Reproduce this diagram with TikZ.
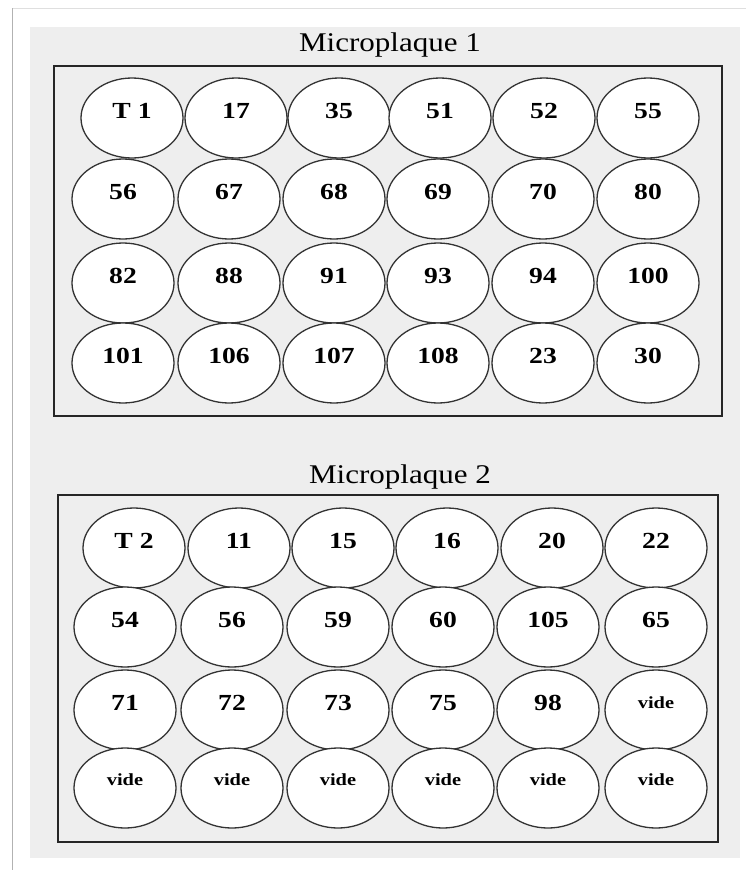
\documentclass[tikz,border=0pt]{standalone}
\usepackage{fontspec}
\setmainfont{Liberation Serif}
\usetikzlibrary{shapes.geometric}

\definecolor{platebg}{HTML}{EEEEEE}
\tikzset{
  well/.style={ellipse, draw=black!80, line width=1.3pt, fill=white,
    minimum width=102pt, minimum height=80pt, inner sep=0pt},
  num/.style={font=\fontsize{23}{23}\selectfont\bfseries, xscale=1.2, inner sep=0pt},
  plate/.style={draw=black!85, line width=2.2pt},
  platetitle/.style={font=\fontsize{27}{27}\selectfont, xscale=1.15, inner sep=0pt},
}
\newcommand{\videtxt}{{\fontsize{17}{17}\selectfont vide}}

\begin{document}
\begin{tikzpicture}[x=1pt,y=-1pt]
  \useasboundingbox (0,0) rectangle (746,870);
  \fill[white] (0,0) rectangle (746,870);
  \draw[gray!25] (12,8) -- (746,8);
  \draw[gray!60] (12,8) -- (12,870);
  \fill[platebg] (30,27) rectangle (740,858);

  % Microplaque 1
  \node[platetitle] (title1) at (390,45) {Microplaque 1};
  \draw[plate] (54,66) rectangle (722,416);
  \foreach \lab/\x [count=\c] in {T 1/132,17/236,35/339,51/440,52/544,55/648}
    {\node[well] (a1-\c) at (\x,118) {};
     \node[num] at ([yshift=7pt]a1-\c.center) {\lab};}
  \foreach \lab/\x [count=\c] in {56/123,67/229,68/334,69/438,70/543,80/648}
    {\node[well] (a2-\c) at (\x,199) {};
     \node[num] at ([yshift=7pt]a2-\c.center) {\lab};}
  \foreach \lab/\x [count=\c] in {82/123,88/229,91/334,93/438,94/543,100/648}
    {\node[well] (a3-\c) at (\x,283) {};
     \node[num] at ([yshift=7pt]a3-\c.center) {\lab};}
  \foreach \lab/\x [count=\c] in {101/123,106/229,107/334,108/438,23/543,30/648}
    {\node[well] (a4-\c) at (\x,363) {};
     \node[num] at ([yshift=7pt]a4-\c.center) {\lab};}

  % Microplaque 2
  \node[platetitle] (title2) at (400,477) {Microplaque 2};
  \draw[plate] (58,495) rectangle (718,842);
  \foreach \lab/\x [count=\c] in {T 2/134,11/239,15/343,16/447,20/552,22/656}
    {\node[well] (b1-\c) at (\x,548) {};
     \node[num] at ([yshift=7pt]b1-\c.center) {\lab};}
  \foreach \lab/\x [count=\c] in {54/125,56/232,59/338,60/443,105/548,65/656}
    {\node[well] (b2-\c) at (\x,627) {};
     \node[num] at ([yshift=7pt]b2-\c.center) {\lab};}
  \foreach \lab/\x [count=\c] in {71/125,72/232,73/338,75/443,98/548,\videtxt/656}
    {\node[well] (b3-\c) at (\x,710) {};
     \node[num] at ([yshift=7pt]b3-\c.center) {\lab};}
  \foreach \x [count=\c] in {125,232,338,443,548,656}
    {\node[well] (b4-\c) at (\x,788) {};
     \node[num] at ([yshift=8pt]b4-\c.center) {\videtxt};}
\end{tikzpicture}
\end{document}
